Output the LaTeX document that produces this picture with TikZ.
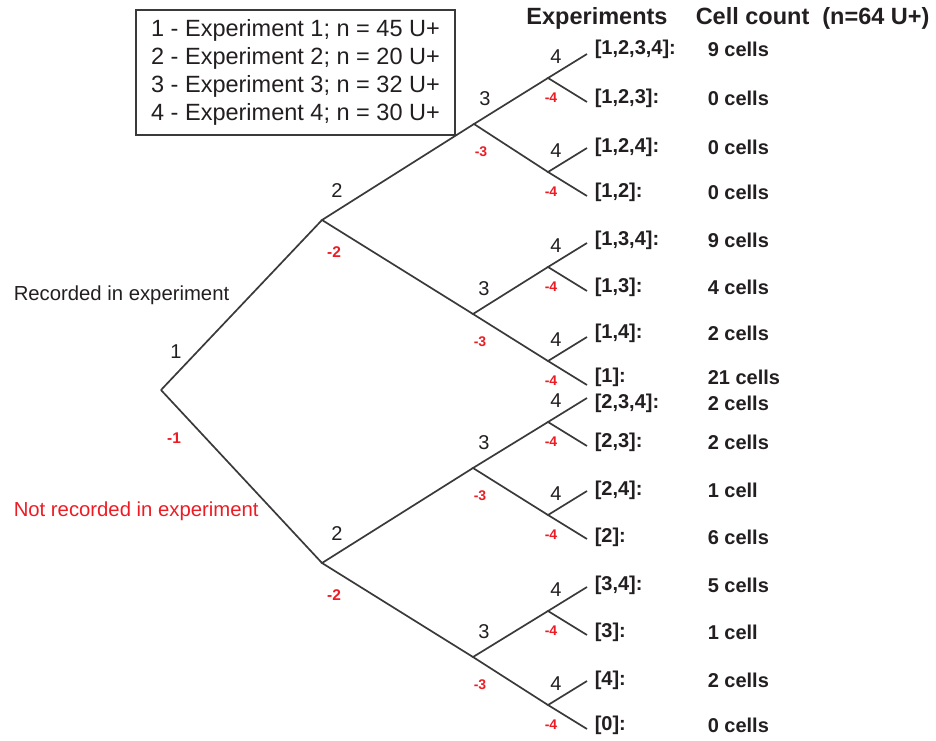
\documentclass[tikz,border=0pt]{standalone}
\usepackage{fontspec}
\setmainfont{Liberation Sans}
\usetikzlibrary{positioning, calc}
\definecolor{cred}{HTML}{ED1C24}
\definecolor{cdark}{HTML}{3A3A3A}
\definecolor{ctext}{HTML}{231F20}
\tikzset{
  every picture/.style={line width=1.5pt},
  branch/.style={draw=cdark, line width=1.7pt},
  yes/.style={text=ctext, inner sep=0pt, font=\fontsize{20}{20}\selectfont},
  no/.style={text=cred, inner sep=0pt, font=\bfseries\fontsize{14}{14}\selectfont},
  nobig/.style={no, font=\bfseries\fontsize{15.5}{15.5}\selectfont},
  leaf/.style={anchor=west, inner sep=0pt, text=ctext, font=\bfseries\fontsize{20}{20}\selectfont},
  head/.style={inner sep=0pt, text=ctext, font=\bfseries\fontsize{23.5}{23.5}\selectfont},
  side/.style={anchor=west, inner sep=0pt, font=\fontsize{20.3}{20.3}\selectfont},
  legend/.style={draw=cdark, line width=1.6pt, align=left, minimum width=319pt, minimum height=125pt, text=ctext, font=\fontsize{23.5}{28}\selectfont},
}

\begin{document}
\begin{tikzpicture}[x=1pt, y=-1pt]
  \useasboundingbox (0,0) rectangle (936,740);
  % branching points
  \coordinate (t) at (161,390);
  \coordinate (t1) at (322,220);   \coordinate (t0) at (322,563);
  \coordinate (t11) at (474,124);  \coordinate (t10) at (473,314);
  \coordinate (t01) at (473,468);  \coordinate (t00) at (473,657);
  \foreach \p/\y in {111/78, 110/172, 101/267, 100/361, 011/422, 010/515, 001/611, 000/705} {
    \coordinate (t\p) at (548,\y);
    \coordinate (t\p1) at (587,\y-24);
    \coordinate (t\p0) at (587,\y+24);
  }
  % tree
  \draw[branch] (t) -- (t1); \draw[branch] (t) -- (t0);
  \foreach \p in {1,0,11,10,01,00,111,110,101,100,011,010,001,000}
    \draw[branch] (t\p1) -- (t\p) -- (t\p0);
  % level labels
  \node[yes] (y1) at ([shift={(15,-38)}]t) {1};
  \node[nobig] (n1) at ([shift={(13,48)}]t) {-1};
  \foreach \p in {1,0} {
    \node[yes] (y\p) at ([shift={(15,-29)}]t\p) {2};
    \node[nobig] (n\p) at ([shift={(12,32)}]t\p) {-2};
  }
  \foreach \p in {11,10,01,00} {
    \node[yes] (y\p) at ([shift={(11,-25)}]t\p) {3};
    \node[no] (n\p) at ([shift={(7,28)}]t\p) {-3};
  }
  \foreach \p in {111,110,101,100,011,010,001,000} {
    \node[yes] (y\p) at ([shift={(8,-21)}]t\p) {4};
    \node[no] (n\p) at ([shift={(3,20)}]t\p) {-4};
  }
  % leaves
  \foreach \p/\set/\cnt/\y in {1111/{[1,2,3,4]:}/9 cells/49, 1110/{[1,2,3]:}/0 cells/98,
      1101/{[1,2,4]:}/0 cells/147, 1100/{[1,2]:}/0 cells/192, 1011/{[1,3,4]:}/9 cells/240,
      1010/{[1,3]:}/4 cells/287, 1001/{[1,4]:}/2 cells/333, 1000/{[1]:}/21 cells/377,
      0111/{[2,3,4]:}/2 cells/403, 0110/{[2,3]:}/2 cells/442, 0101/{[2,4]:}/1 cell/490,
      0100/{[2]:}/6 cells/537, 0011/{[3,4]:}/5 cells/585, 0010/{[3]:}/1 cell/632,
      0001/{[4]:}/2 cells/680, 0000/{[0]:}/0 cells/725} {
    \node[leaf] (s\p) at (594,\y) {\set};
    \node[leaf] (c\p) at (707,\y) {\cnt};
  }
  \node[head] (hexp) at (597,18) {Experiments};
  \node[head, anchor=west] (hcnt) at (695,18) {Cell count\ \ (n=64 U+)};
  \node[side, text=ctext] (rec) at (13,295) {Recorded in experiment};
  \node[side, text=cred] (notrec) at (13,511) {Not recorded in experiment};
  \node[legend] (key) at (295.5,72.5) {1 - Experiment 1; n = 45 U+\\2 - Experiment 2; n = 20 U+\\3 - Experiment 3; n = 32 U+\\4 - Experiment 4; n = 30 U+};
\end{tikzpicture}
\end{document}
